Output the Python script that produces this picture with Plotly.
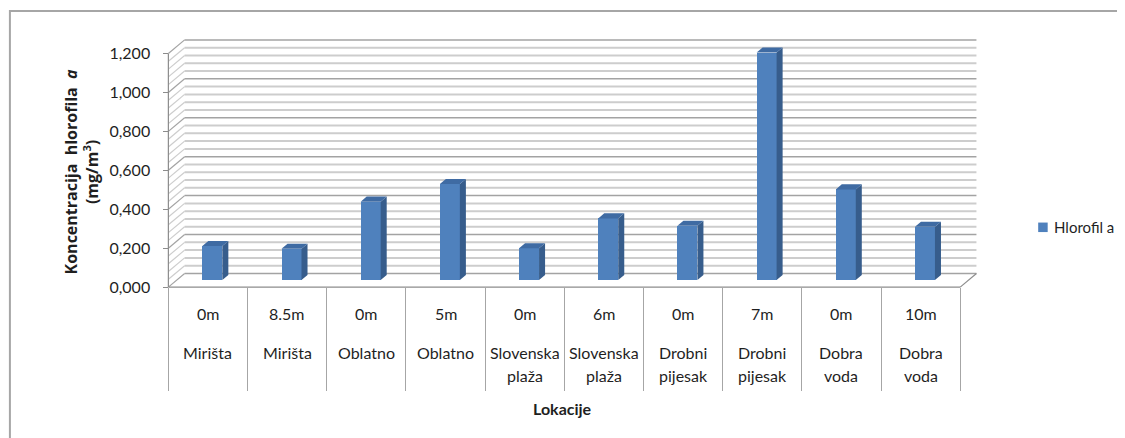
import plotly.graph_objects as go

# ---------------- data ----------------
depths = ["0m", "8.5m", "0m", "5m", "0m", "6m", "0m", "7m", "0m", "10m"]
locations = ["Mirišta", "Mirišta", "Oblatno", "Oblatno", "Slovenska plaža",
             "Slovenska plaža", "Drobni pijesak", "Drobni pijesak",
             "Dobra voda", "Dobra voda"]
chlorophyll = [0.175, 0.161, 0.403, 0.494, 0.163, 0.317, 0.279, 1.169, 0.466, 0.274]
y_ticks = [0.0, 0.2, 0.4, 0.6, 0.8, 1.0, 1.2]
y_tick_labels = ["0,000", "0,200", "0,400", "0,600", "0,800", "1,000", "1,200"]
series_name = "Hlorofil a"
x_title = "Lokacije"
y_title = ("<b>Koncentracija\u00a0 hlorofila\u00a0 <i>a</i></b>"
           "<br><b>(mg/m<sup>3</sup>)</b>")

# ---------------- layout geometry ----------------
OFF = 8                          # browser body margin
W, H = 1125 - OFF, 438 - OFF
PXX, PXY = 79.2, 194.5          # pixels per category / per unit
AX_X, AX_Y = 168.0 - OFF, 287.0 - OFF   # figure pixel of x=-0.5 and y=0
xr = [-0.53, 9.75]
yr = [-0.02, 1.29]
ml = AX_X - (-0.5 - xr[0]) * PXX
pw = (xr[1] - xr[0]) * PXX
mr = W - ml - pw
mt = AX_Y - yr[1] * PXY
ph = (yr[1] - yr[0]) * PXY
mb = H - mt - ph


def pxx(px):   # reference page pixel -> paper x
    return (px - OFF - ml) / pw


def pxy(py):   # reference page pixel -> paper y
    return (mt + ph - (py - OFF)) / ph


n = len(chlorophyll)
DX, DY = 0.205, 0.07            # depth of walls / floor
MINOR = 0.04
FONT = "Lato, 'Open Sans', sans-serif"
TFONT = "'Open Sans', Lato, sans-serif"
TXT = "#1f1f1f"
BLUE = "#4f81bd"

shapes = []
# back wall gridlines + left wall diagonals
for k in range(int(round(1.2 / MINOR)) + 1):
    g = k * MINOR
    major = (k % 5 == 0)
    col = "#a3a3a3" if major else "#cdcdcd"
    wid = 1.5 if major else 2
    shapes.append(dict(type="line", xref="x", yref="y", layer="below",
                       x0=-0.5 + DX, x1=n - 0.5 + DX, y0=g + DY, y1=g + DY,
                       line=dict(color=col, width=wid)))
    shapes.append(dict(type="line", xref="x", yref="y", layer="below",
                       x0=-0.5, x1=-0.5 + DX, y0=g, y1=g + DY,
                       line=dict(color=col, width=1.2)))
# floor
AXC = "#8c8c8c"
shapes.append(dict(type="line", xref="x", yref="y", layer="below",
                   x0=-0.5, x1=n - 0.5, y0=0, y1=0, line=dict(color=AXC, width=1.2)))
shapes.append(dict(type="line", xref="x", yref="y", layer="below",
                   x0=n - 0.5, x1=n - 0.5 + DX, y0=0, y1=DY, line=dict(color=AXC, width=1.2)))
# y axis line
shapes.append(dict(type="line", xref="x", yref="y", layer="below",
                   x0=-0.5, x1=-0.5, y0=0, y1=y_ticks[-1], line=dict(color=AXC, width=1.2)))
# outer chart border
shapes.append(dict(type="rect", xref="paper", yref="paper", layer="below",
                   x0=pxx(9.5), x1=pxx(1150), y0=pxy(11), y1=pxy(470),
                   line=dict(color="#a6a6a6", width=2)))
# legend swatch
shapes.append(dict(type="rect", xref="paper", yref="paper", layer="above",
                   x0=pxx(1038), x1=pxx(1047.5), y0=pxy(222.5), y1=pxy(232),
                   fillcolor=BLUE, line=dict(width=0)))

# ---------------- bars ----------------
BAR_OFF, BAR_W, BASE = 0.055, 0.2525, 0.036
BDX, BDY = 0.076, 0.026
xs = [i + BAR_OFF for i in range(n)]

fig = go.Figure()
fig.add_trace(go.Bar(x=xs, y=chlorophyll, base=BASE, width=BAR_W, name=series_name,
                     marker=dict(color=BLUE, line=dict(width=0)),
                     showlegend=False, hoverinfo="skip"))

side_x, side_y, top_x, top_y = [], [], [], []
for x, v in zip(xs, chlorophyll):
    xl, xrr = x - BAR_W / 2, x + BAR_W / 2
    t = BASE + v
    side_x += [xrr, xrr + BDX, xrr + BDX, xrr, xrr, None]
    side_y += [BASE, BASE + BDY, t + BDY, t, BASE, None]
    top_x += [xl, xl + BDX, xrr + BDX, xrr, xl, None]
    top_y += [t, t + BDY, t + BDY, t, t, None]

fig.add_trace(go.Scatter(x=side_x, y=side_y, mode="lines", fill="toself",
                         fillcolor="#375d8c", line=dict(width=0, color="#375d8c"),
                         showlegend=False, hoverinfo="skip"))
fig.add_trace(go.Scatter(x=top_x, y=top_y, mode="lines", fill="toself",
                         fillcolor="#3f6ba3", line=dict(width=0, color="#3f6ba3"),
                         showlegend=False, hoverinfo="skip"))

# ---------------- annotations ----------------
ann = []
for i, (d, loc) in enumerate(zip(depths, locations)):
    ann.append(dict(x=i, y=pxy(313), xref="x", yref="paper", text=d, showarrow=False,
                    yanchor="middle", xanchor="center",
                    font=dict(family=FONT, size=16, color=TXT)))
    for j, word in enumerate(loc.split(" ")):
        ann.append(dict(x=i, y=pxy(352 + 23 * j), xref="x", yref="paper", text=word,
                        showarrow=False, yanchor="middle", xanchor="center",
                        font=dict(family=FONT, size=16, color=TXT)))
ann.append(dict(x=pxx(562), y=pxy(408), xref="paper", yref="paper",
                text="<b>" + x_title + "</b>", showarrow=False,
                xanchor="center", yanchor="middle",
                font=dict(family=FONT, size=16, color=TXT)))
ann.append(dict(x=pxx(81), y=pxy(171), xref="paper", yref="paper", text=y_title,
                textangle=-90, showarrow=False, xanchor="center", yanchor="middle",
                font=dict(family=TFONT, size=16, color=TXT)))
# legend text
ann.append(dict(x=pxx(1052), y=pxy(227), xref="paper", yref="paper", text=series_name,
                showarrow=False, xanchor="left", yanchor="middle",
                font=dict(family=FONT, size=15, color=TXT)))

fig.update_layout(
    width=W, height=H, autosize=False,
    margin=dict(l=ml, r=mr, t=mt, b=mb, pad=0, autoexpand=False),
    paper_bgcolor="white", plot_bgcolor="white",
    shapes=shapes, annotations=ann, showlegend=False,
    font=dict(family=FONT, size=16, color=TXT),
    xaxis=dict(range=xr, tickvals=[k - 0.5 for k in range(n + 1)], ticks="outside",
               ticklen=103, tickcolor="#a6a6a6", tickwidth=1.2, showticklabels=False,
               showgrid=False, zeroline=False, showline=False,
               anchor="free", position=(mt + ph - AX_Y) / ph, fixedrange=True),
    yaxis=dict(range=yr, tickvals=y_ticks, ticktext=y_tick_labels, ticks="outside",
               ticklen=5, tickcolor=AXC, tickwidth=1.2, ticklabelstandoff=10,
               tickfont=dict(family=FONT, size=16, color=TXT),
               showgrid=False, zeroline=False, showline=False,
               anchor="free", position=(AX_X - ml) / pw, fixedrange=True),
    bargap=0,
)

fig.write_html("out.html")
